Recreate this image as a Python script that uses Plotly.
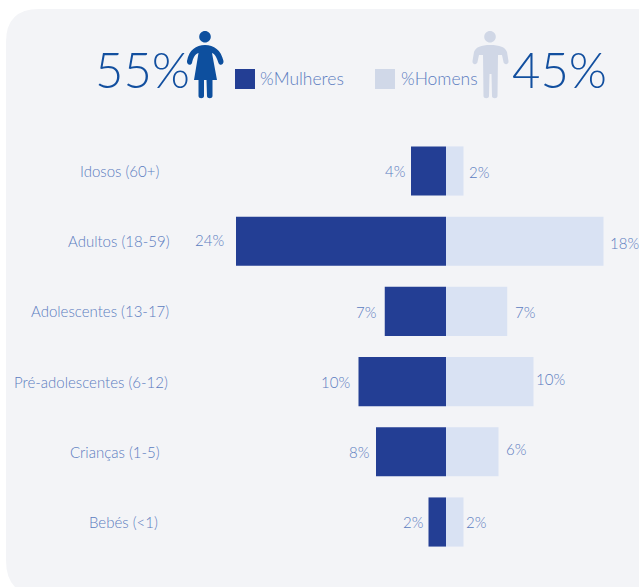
import plotly.graph_objects as go

# Age groups, bottom to top, and share of each sex (%)
age_groups = ["Bebés (<1)", "Crianças (1-5)", "Pré-adolescentes (6-12)",
              "Adolescentes (13-17)", "Adultos (18-59)", "Idosos (60+)"]
women = [2, 8, 10, 7, 24, 4]
men = [2, 6, 10, 7, 18, 2]
total_women = "55%"
total_men = "45%"
legend_women = "%Mulheres"
legend_men = "%Homens"

W, H = 639, 587
ZERO_PX = 446          # pixel column of the zero line
PX_PER_PCT = 8.75
ROW_PX = 70.2
BOTTOM_ROW_PX = 522
FONT = "Lato Light, Lato, sans-serif"
DARK = "#233e94"
LIGHT = "#d9e2f3"
TEXT = "#5b7cc0"
BIG = "#124f9f"
ICON_W = "#0d4f9e"
ICON_M = "#d0d7e6"
PANEL = "#f3f4f7"

# Label placement: centre of the age label in pixels, nudges of the value labels
group_center = [123, 115, 91, 100, 119, 119]
women_nudge = [-16, -17, -23, -19, -27, -16]
men_nudge = [12, 17, 17, 18, 21, 15]
women_lift = [0, 0, 0, -1, 1, 0]
men_lift = [0, 3, 3, -1, -2, -1]


def px(x):
    return x / W


def py(y):
    return 1 - y / H


def path(cmds):
    """Build an SVG path in paper coordinates from (command, x, y, ...) tuples."""
    out = []
    for c in cmds:
        if c[0] == "Z":
            out.append("Z")
            continue
        coords = c[1:]
        pts = [f"{px(coords[i]):.5f},{py(coords[i + 1]):.5f}" for i in range(0, len(coords), 2)]
        out.append(c[0] + " " + " ".join(pts))
    return " ".join(out)


def circle(cx, cy, r):
    k = r * 0.5523
    return path([("M", cx - r, cy),
                 ("C", cx - r, cy - k, cx - k, cy - r, cx, cy - r),
                 ("C", cx + k, cy - r, cx + r, cy - k, cx + r, cy),
                 ("C", cx + r, cy + k, cx + k, cy + r, cx, cy + r),
                 ("C", cx - k, cy + r, cx - r, cy + k, cx - r, cy), ("Z",)])


def fill_shape(d, color):
    return dict(type="path", xref="paper", yref="paper", path=d,
                fillcolor=color, line=dict(width=0), layer="above")


def rect(x0, y0, x1, y1, color):
    return dict(type="rect", xref="paper", yref="paper", x0=px(x0), x1=px(x1),
                y0=py(y0), y1=py(y1), fillcolor=color, line=dict(width=0), layer="above")


# Rounded background panel, running off the right and bottom edges
panel = path([("M", 6, 42), ("Q", 6, 9, 39, 9), ("L", 645, 9), ("L", 645, 595),
              ("L", 39, 595), ("Q", 6, 595, 6, 560), ("Z",)])

# Woman pictogram
woman_body = path([
    ("M", 205, 45), ("C", 214, 45, 221, 50, 223.5, 61),
    ("C", 224, 65, 219.5, 66, 218.5, 63), ("C", 217, 58, 215, 54, 212, 53),
    ("L", 217, 80), ("L", 212.5, 80), ("L", 212.5, 96),
    ("C", 212.5, 99, 207, 99, 207, 96), ("L", 206.5, 80), ("L", 204, 80),
    ("L", 204, 96), ("C", 204, 99, 198.5, 99, 198.5, 96), ("L", 198.5, 80),
    ("L", 194, 80), ("L", 198.5, 53), ("C", 195, 54, 193, 58, 192, 63),
    ("C", 191, 66, 186.5, 65, 187, 61), ("C", 189, 50, 196, 45, 205, 45), ("Z",)])

# Man pictogram
man_body = path([
    ("M", 490, 45), ("C", 500, 45, 505, 47, 507, 52), ("L", 508.5, 61),
    ("C", 509, 65, 504, 65, 503.5, 62), ("L", 502, 55), ("L", 498, 55),
    ("L", 497.5, 96), ("C", 497.5, 99, 492, 99, 492, 96), ("L", 491.5, 74),
    ("L", 489.5, 74), ("L", 489, 96), ("C", 489, 99, 483.5, 99, 483.5, 96),
    ("L", 483, 55), ("L", 479, 55), ("L", 477.5, 62),
    ("C", 477, 65, 472, 65, 472.5, 61), ("L", 474, 52),
    ("C", 476, 47, 481, 45, 490, 45), ("Z",)])

shapes = [
    dict(type="path", xref="paper", yref="paper", path=panel, fillcolor=PANEL,
         line=dict(width=0), layer="below"),
    fill_shape(circle(205, 36.7, 5.8), ICON_W),
    fill_shape(woman_body, ICON_W),
    fill_shape(circle(490, 36.7, 5.8), ICON_M),
    fill_shape(man_body, ICON_M),
    rect(235, 69, 255, 89, DARK),
    rect(375, 69, 395, 89, "#d0d8e8"),
]


def paper_text(x, y, text, size, color, anchor="center"):
    return dict(xref="paper", yref="paper", x=px(x), y=py(y), text=text, showarrow=False,
                xanchor=anchor, yanchor="middle", font=dict(family=FONT, size=size, color=color))


annotations = [
    paper_text(142, 69, total_women, 49, BIG),
    paper_text(559.5, 69, total_men, 49, BIG),
    paper_text(258, 78, legend_women, 17.5, TEXT, "left"),
    paper_text(399, 78, legend_men, 17.5, TEXT, "left"),
]

for i, group in enumerate(age_groups):
    annotations.append(dict(xref="paper", yref="y", x=px(group_center[i]), y=i, text=group,
                            showarrow=False, xanchor="center", yanchor="middle",
                            font=dict(family=FONT, size=15, color=TEXT)))
    annotations.append(dict(xref="x", yref="y", x=-women[i], y=i, text=f"{women[i]}%",
                            xshift=women_nudge[i], yshift=women_lift[i], showarrow=False,
                            font=dict(family=FONT, size=15, color=TEXT)))
    annotations.append(dict(xref="x", yref="y", x=men[i], y=i, text=f"{men[i]}%",
                            xshift=men_nudge[i], yshift=men_lift[i], showarrow=False,
                            font=dict(family=FONT, size=15, color=TEXT)))

fig = go.Figure()
fig.add_bar(y=list(range(len(age_groups))), x=[-v for v in women], orientation="h",
            marker=dict(color=DARK, line=dict(width=0)), name=legend_women)
fig.add_bar(y=list(range(len(age_groups))), x=men, orientation="h",
            marker=dict(color=LIGHT, line=dict(width=0)), name=legend_men)

fig.update_layout(
    width=W, height=H, barmode="relative", bargap=0.3, showlegend=False,
    margin=dict(l=0, r=0, t=0, b=0), paper_bgcolor="white", plot_bgcolor="rgba(0,0,0,0)",
    shapes=shapes, annotations=annotations,
    xaxis=dict(range=[-ZERO_PX / PX_PER_PCT, (W - ZERO_PX) / PX_PER_PCT], visible=False, fixedrange=True),
    yaxis=dict(range=[(BOTTOM_ROW_PX - H) / ROW_PX, BOTTOM_ROW_PX / ROW_PX], visible=False, fixedrange=True),
)

fig.write_html("out.html", config={"displayModeBar": False})
